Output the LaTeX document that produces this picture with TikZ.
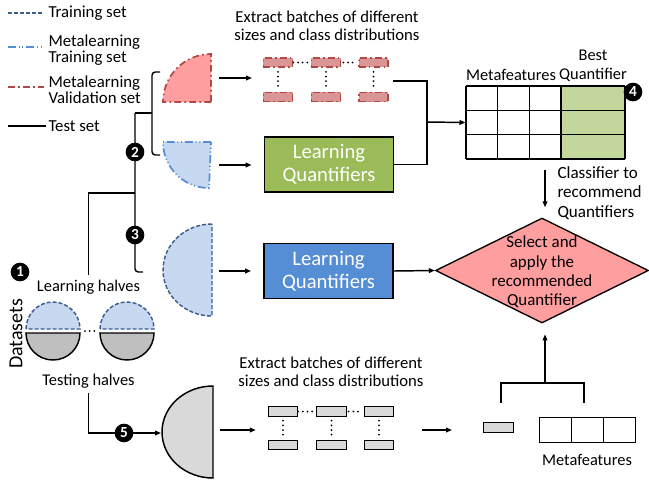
\documentclass[tikz,border=0pt]{standalone}
\usepackage{fontspec}
\setmainfont{Carlito}
\usetikzlibrary{arrows.meta,shapes.geometric}

\definecolor{lblue}{RGB}{198,217,241}
\definecolor{dblue}{RGB}{61,94,140}
\definecolor{mblue}{RGB}{85,142,213}
\definecolor{dred}{RGB}{176,72,72}
\definecolor{lred}{RGB}{255,158,158}
\definecolor{bred}{RGB}{217,150,148}
\definecolor{lgreen}{RGB}{195,214,155}
\definecolor{mgreen}{RGB}{155,187,89}
\definecolor{lgray}{RGB}{217,217,217}
\definecolor{mgray}{RGB}{191,191,191}

\newcommand\lblfont{\fontsize{12.3}{14.6}\selectfont}
\newcommand\legfont{\fontsize{12.6}{12.3}\selectfont}
\newcommand\extfont{\fontsize{12.5}{13.5}\selectfont}
\newcommand\boxfont{\fontsize{15.5}{17.5}\selectfont}
\newcommand\dmdfont{\fontsize{12.7}{14.4}\selectfont}

\tikzset{every picture/.style={line width=0.75pt}}
\tikzset{
  trainset/.style={dblue, dash pattern=on 3pt off 1.5pt},
  mltrain/.style={mblue, dash pattern=on 6pt off 2pt on 0.8pt off 2pt on 0.8pt off 2pt},
  mlvalid/.style={dred, dash pattern=on 5pt off 2.5pt on 1.2pt off 2.5pt},
  dots/.style={line width=1.5pt, line cap=round, dash pattern=on 0pt off 3.5pt},
  num/.style={circle, fill=black, text=white, inner sep=0pt, minimum size=14pt, font=\bfseries\fontsize{11.5}{11.5}\selectfont},
  batch/.style={draw, fill=lgray, minimum width=22pt, minimum height=7pt, inner sep=0pt},
  redbatch/.style={batch, mlvalid, fill=bred, line width=1.1pt},
  quant/.style={draw, line width=1.1pt, text=white, align=center, font=\boxfont, minimum width=97pt, minimum height=41.5pt},
  cell/.style={draw, minimum width=24pt, minimum height=18.75pt, inner sep=0pt},
  >={Triangle[length=4.5pt,width=3.5pt]}
}

\begin{document}
\begin{tikzpicture}[x=0.75pt,y=0.75pt,yscale=-1,xscale=1]
\useasboundingbox (0,0) rectangle (649,483);

%Legend
\draw [trainset, line width=1.1pt] (8,13) -- (44,13);
\node [anchor=west, font=\legfont, inner sep=0pt] (lgtr) at (48,13) {Training set};
\draw [mltrain, line width=1.1pt] (8,47) -- (44,47);
\node [anchor=west, align=left, font=\legfont, inner sep=0pt] (lgmt) at (48,50) {Metalearning\\Training set};
\draw [mlvalid, line width=1.1pt] (8,87) -- (44,87);
\node [anchor=west, align=left, font=\legfont, inner sep=0pt] (lgmv) at (48,89.5) {Metalearning\\Validation set};
\draw [line width=1.1pt] (8,126) -- (46,126);
\node [anchor=west, font=\legfont, inner sep=0pt] (lgts) at (48,126) {Test set};

%Brackets
\draw [rounded corners=2.5pt, line width=1.1pt] (160,72) -- (152,72) -- (152,155) -- (160,155);
\draw [line width=1.1pt] (152,113) -- (135,113);
\draw [rounded corners=2.5pt, line width=1.1pt] (135,113) -- (135,272) -- (143,272);

% Text Node
\node [font=\lblfont] (lh) at (88.5,287) {Learning halves};
\node [font=\lblfont] (th) at (88.5,381) {Testing halves};
\node [rotate=90, font=\fontsize{15}{15}\selectfont] (ds) at (16,334) {Datasets};

\draw [line width=1.1pt] (lh.north) |- (135,193);

%Shape: Datasets halves
\foreach \cx in {53,127} {
  \filldraw [trainset, fill=lblue, line width=1.1pt] (\cx-27,329) arc [start angle=180, end angle=360, radius=27] -- cycle;
  \filldraw [fill=mgray, line width=1.1pt] (\cx-27,333) arc [start angle=180, end angle=0, radius=27] -- cycle;
}
\draw [dots] (85,331) -- (97,331);

%Shape: Quarter Circles
\filldraw [mlvalid, fill=lred, line width=1.3pt] (211,102) -- (163,102) arc [start angle=180, end angle=270, radius=48] -- cycle;
\filldraw [mltrain, fill=lblue, line width=1.3pt] (211,142) -- (163,142) arc [start angle=180, end angle=90, radius=46] -- cycle;
%Shape: Half Circles
\filldraw [trainset, fill=lblue, line width=1.1pt] (212,224) arc [start angle=270, end angle=90, x radius=49, y radius=46] -- cycle;
\filldraw [fill=lgray, line width=1.1pt] (213,386) arc [start angle=270, end angle=90, x radius=51, y radius=46] -- cycle;

\coordinate (rqe) at (219,78);
\coordinate (bqe) at (219,165);
\coordinate (bhe) at (219,271);
\coordinate (ghw) at (161,433);
\coordinate (ghe) at (220,430);

%Testing halves line
\draw [->, line width=1.1pt] (th.south) |- (ghw);

%Batches (red)
\foreach \c/\x in {1/278,2/326,3/373.5} {
  \node [redbatch] (rt\c) at (\x,62.5) {};
  \node [redbatch] (rb\c) at (\x,97) {};
  \draw [dots, shorten <=3pt, shorten >=3pt] (rt\c) -- (rb\c);
}
\draw [dots, shorten <=1.5pt, shorten >=1.5pt] (rt1) -- (rt2) (rt2) -- (rt3);
\node [font=\extfont, align=center] (ext1) at (327,26) {Extract batches of different\\sizes and class distributions};

%Batches (gray)
\foreach \c/\x in {1/283,2/331.5,3/379} {
  \node [batch] (gt\c) at (\x,411.5) {};
  \node [batch] (gb\c) at (\x,445) {};
  \draw [dots, shorten <=3pt, shorten >=3pt] (gt\c) -- (gb\c);
}
\draw [dots, shorten <=1.5pt, shorten >=1.5pt] (gt1) -- (gt2) (gt2) -- (gt3);
\node [font=\extfont, align=center] (ext2) at (331,372) {Extract batches of different\\sizes and class distributions};

%Learning Quantifiers
\node [quant, fill=mgreen] (lqg) at (329,164.5) {Learning\\Quantifiers};
\node [quant, fill=mblue] (lqb) at (328.5,271) {Learning\\Quantifiers};

%Table
\node [minimum width=119.25pt, minimum height=54.75pt, inner sep=0pt] (tbl) at (545.5,122.5) {};
\fill [lgreen] (561,86) rectangle (625,159);
\foreach \i in {0,...,3} \draw [line width=1pt] (466+31.67*\i,86) -- ++(0,73);
\draw [line width=1pt] (625,86) -- ++(0,73);
\foreach \j in {0,...,3} \draw [line width=1pt] (466,86+24.33*\j) -- ++(159,0);
\node [font=\lblfont] (tmf) at (511,75) {Metafeatures};
\node [font=\lblfont, align=center] (tbq) at (593,66) {Best\\Quantifier};

%Diamond
\node [diamond, draw, fill=lred, minimum width=159.75pt, minimum height=78.75pt, inner sep=0pt, line width=1pt] (sel) at (542,270.5) {};
\node [font=\dmdfont, align=center] (seltxt) at (542,272) {Select and\\apply the\\recommended\\Quantifier};
\node [font=\fontsize{12.8}{14.6}\selectfont, align=left, anchor=west, inner sep=0pt] (clf) at (557,193) {Classifier to\\recommend\\Quantifiers};

%Metafeatures of test batch
\node [batch, minimum width=22.5pt, minimum height=7.5pt] (qb) at (498,427) {};
\foreach \k/\x in {1/555.5,2/587,3/619} \node [cell] (mf\k) at (\x,429.5) {};
\node [font=\lblfont] (mft) at (587,460) {Metafeatures};
\draw [line width=1.1pt] (501,403) -- (501,383) -- (584,383) -- (584,403);
\coordinate (ap) at (545,383);

%Connectors
\draw [->, line width=1.1pt] (rqe) -- ++(33,0);
\draw [->, line width=1.1pt, shorten >=9pt] (bqe) -- (lqg.west |- bqe);
\draw [->, line width=1.1pt, shorten >=9pt] (bhe) -- (lqb.west);
\draw [->, line width=1.1pt] (lqb.east) -- (sel.west);
\coordinate (jn) at (427,122);
\coordinate (rbe) at (393,81);
\draw [line width=1.1pt] (rbe) -| (jn);
\draw [line width=1.1pt] (lqg.east) -| (jn);
\draw [->, line width=1.1pt] (jn) -- (tbl.west);
\draw [->, line width=1.1pt, shorten <=8pt, shorten >=8pt] (545,159) -- (545,218);
\draw [->, line width=1.1pt, shorten >=8pt] (ap) -- (ap |- sel.south);
\draw [->, line width=1.1pt, shorten >=9pt] (ghe) -- (gb1.west |- ghe);
\draw [->, line width=1.1pt] (422,430) -- (452,430);

%Numbers
\node [num] (n1) at (20,272) {1};
\node [num] (n2) at (135,152) {2};
\node [num] (n3) at (135,235) {3};
\node [num] (n4) at (633,92) {4};
\node [num] (n5) at (124,433) {5};

\end{tikzpicture}
\end{document}
